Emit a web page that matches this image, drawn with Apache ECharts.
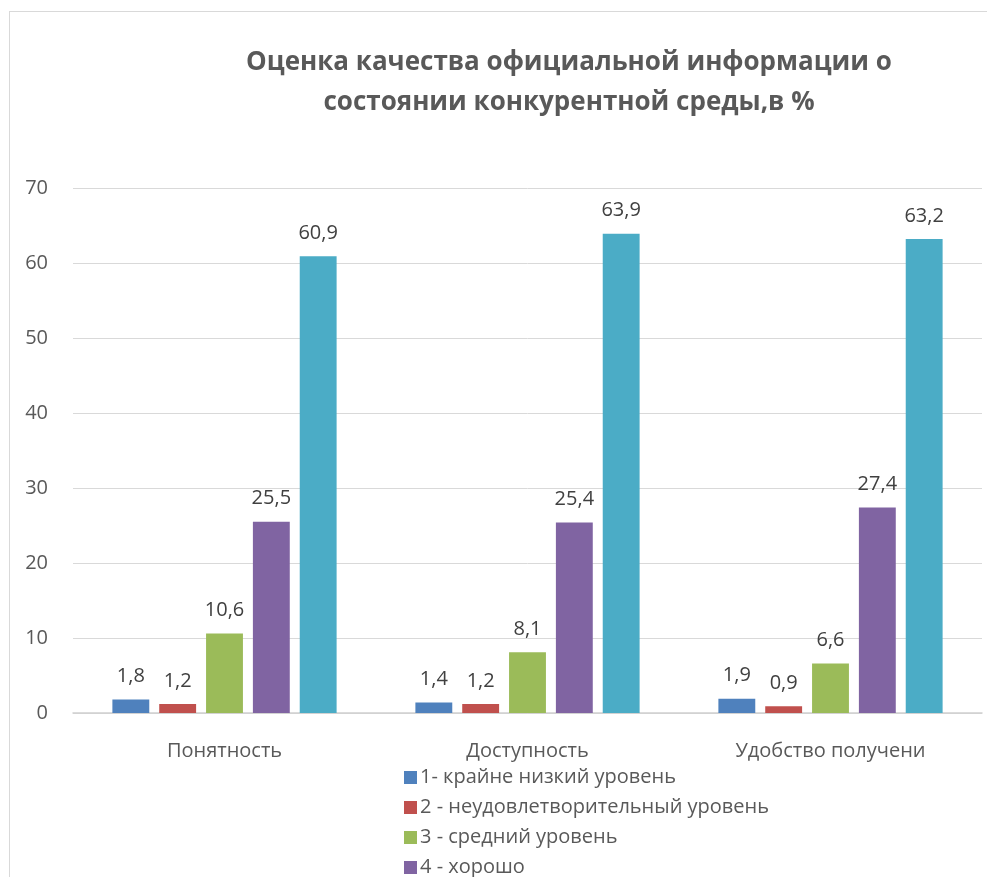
<!DOCTYPE html>
<html><head><meta charset="utf-8">
<script src="https://cdn.jsdelivr.net/npm/echarts@6/dist/echarts.min.js"></script>
<style>
html,body{margin:0;padding:0;background:#fff;overflow:hidden;}
#frame{position:absolute;left:9px;top:11px;width:1100px;height:1000px;border:1px solid #d9d9d9;box-sizing:border-box;}
#c{position:absolute;left:0;top:0;width:987px;height:877px;}
</style></head>
<body>
<div id="frame"></div>
<div id="c"></div>
<script>
const categories = ['Понятность', 'Доступность', 'Удобство получени'];
const seriesNames = ['1- крайне низкий уровень', '2 - неудовлетворительный уровень', '3 - средний уровень', '4 - хорошо', '5 - отлично'];
const s1 = [1.8, 1.4, 1.9];
const s2 = [1.2, 1.2, 0.9];
const s3 = [10.6, 8.1, 6.6];
const s4 = [25.5, 25.4, 27.4];
const s5 = [60.9, 63.9, 63.2];
const colors = ['#4F81BD', '#C0504D', '#9BBB59', '#8064A2', '#4BACC6'];
const values = [s1, s2, s3, s4, s5];
const font = 'Open Sans, Calibri, Carlito, sans-serif';

const chart = echarts.init(document.getElementById('c'));
chart.setOption({
  animation: false,
  textStyle: {fontFamily: font},
  title: {
    text: 'Оценка качества официальной информации о\nсостоянии конкурентной среды,в %',
    left: 564, top: 38, textAlign: 'center',
    textStyle: {fontSize: 26, fontWeight: 'bold', color: '#595959', lineHeight: 40, fontFamily: font}
  },
  legend: {
    orient: 'vertical', left: 399, top: 759, height: 300,
    itemWidth: 13, itemHeight: 13, itemGap: 3,
    icon: 'rect',
    textStyle: {fontSize: 20, color: '#595959', fontFamily: font, padding: [0,0,0,-2], lineHeight: 27},
    data: seriesNames
  },
  grid: {left: 73, right: 5, top: 188, bottom: 164},
  xAxis: {
    type: 'category', data: categories,
    axisLine: {lineStyle: {color: '#d0d0d0', width: 1.5}},
    axisTick: {show: false},
    axisLabel: {fontSize: 20, color: '#595959', margin: 28, fontFamily: font}
  },
  yAxis: {
    type: 'value', min: 0, max: 70, interval: 10,
    axisLine: {show: false}, axisTick: {show: false},
    splitLine: {lineStyle: {color: '#d9d9d9', width: 1}},
    axisLabel: {fontSize: 20, color: '#595959', margin: 25, fontFamily: font}
  },
  series: values.map((v, i) => ({
    name: seriesNames[i], type: 'bar', data: v,
    barGap: '27%', barCategoryGap: '26%',
    itemStyle: {color: colors[i]},
    label: {
      show: true, position: 'top', distance: 13,
      fontSize: 20, color: '#404040', fontFamily: font,
      formatter: p => String(p.value).replace('.', ',')
    }
  }))
});
</script>
</body></html>
